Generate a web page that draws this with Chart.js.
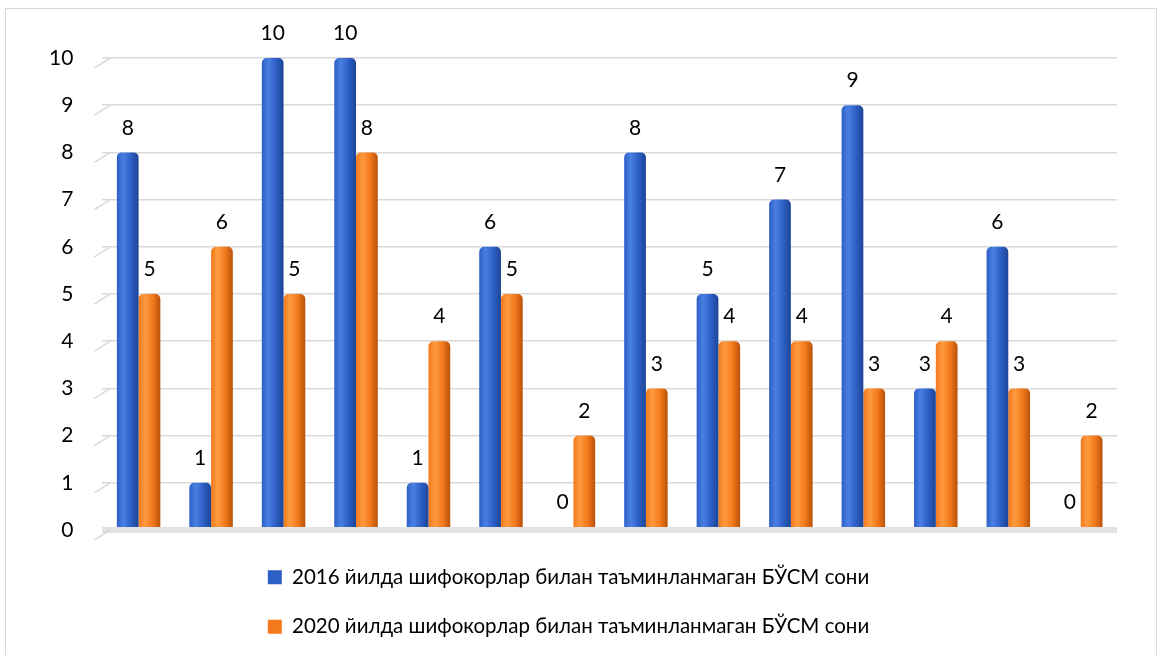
<!DOCTYPE html>
<html>
<head>
<meta charset="utf-8">
<script src="https://cdn.jsdelivr.net/npm/chart.js@4"></script>
<style>
  html, body { margin: 0; padding: 0; background: #fff; }
  #wrap { position: relative; width: 1165px; height: 655px; overflow: hidden; }
  #frame { position: absolute; left: 5px; top: 8px; width: 1152px; height: 660px; border: 1px solid #d9d9d9; box-sizing: border-box; }
  canvas { position: absolute; left: 0; top: 0; }
</style>
</head>
<body>
<div id="wrap">
  <div id="frame"></div>
  <canvas id="chart" width="1165" height="655"></canvas>
</div>
<script>
'use strict';

// categories have no visible labels in the source picture
const categories = ['1', '2', '3', '4', '5', '6', '7', '8', '9', '10', '11', '12', '13', '14'];
const values2016 = [8, 1, 10, 10, 1, 6, 0, 8, 5, 7, 9, 3, 6, 0];
const values2020 = [5, 6, 5, 8, 4, 5, 2, 3, 4, 4, 3, 4, 3, 2];
const yTicks = [0, 1, 2, 3, 4, 5, 6, 7, 8, 9, 10];
const label2016 = '2016 йилда шифокорлар билан таъминланмаган БЎСМ сони';
const label2020 = '2020 йилда шифокорлар билан таъминланмаган БЎСМ сони';

const FONT = 'Lato, "Open Sans", sans-serif';

const palette = {
  blue: { solid: '#2d5fc6', dark: '#1d4595', light: '#4a80e2' },
  orange: { solid: '#f27a1c', dark: '#b9520a', light: '#ff9a40' },
};

// horizontal shading per bar, gives the rounded "3D" look
function shaded(colors, side) {
  return context => {
    const chart = context.chart;
    const xs = chart.scales.x;
    if (!chart.chartArea || !xs || context.type !== 'data') {
      return colors.solid;
    }
    const center = xs.getPixelForValue(context.dataIndex);
    const barWidth = xs.width / categories.length * 0.6 / 2;
    const left = side < 0 ? center - barWidth : center;
    const g = chart.ctx.createLinearGradient(left, 0, left + barWidth, 0);
    g.addColorStop(0, colors.solid);
    g.addColorStop(0.3, colors.light);
    g.addColorStop(0.65, colors.solid);
    g.addColorStop(1, colors.dark);
    return g;
  };
}

const valueLabels = {
  id: 'valueLabels',
  afterDatasetsDraw(chart) {
    const { ctx } = chart;
    ctx.save();
    ctx.font = '21px ' + FONT;
    ctx.fillStyle = '#000';
    ctx.textAlign = 'center';
    ctx.textBaseline = 'bottom';
    chart.data.datasets.forEach((ds, i) => {
      chart.getDatasetMeta(i).data.forEach((bar, j) => {
        ctx.fillText(String(ds.data[j]), bar.x, bar.y - 14);
      });
    });
    ctx.restore();
  },
};

// short slanted stubs at the left end of each gridline (perspective wall)
const wallStubs = {
  id: 'wallStubs',
  beforeDatasetsDraw(chart) {
    const { ctx, chartArea } = chart;
    const ys = chart.scales.y;
    ctx.save();
    ctx.strokeStyle = '#d9d9d9';
    ctx.lineWidth = 1.5;
    yTicks.forEach(v => {
      const y = ys.getPixelForValue(v);
      ctx.beginPath();
      ctx.moveTo(chartArea.left - 8, y + 10);
      ctx.lineTo(chartArea.left + 8, y);
      ctx.stroke();
    });
    ctx.restore();
  },
};

new Chart(document.getElementById('chart'), {
  type: 'bar',
  data: {
    labels: categories,
    datasets: [
      {
        label: label2016,
        data: values2016,
        backgroundColor: shaded(palette.blue, -1),
        borderRadius: { topLeft: 5, topRight: 5 },
        borderSkipped: 'start',
        minBarLength: 3,
      },
      {
        label: label2020,
        data: values2020,
        backgroundColor: shaded(palette.orange, 1),
        borderRadius: { topLeft: 5, topRight: 5 },
        borderSkipped: 'start',
        minBarLength: 3,
      },
    ],
  },
  options: {
    responsive: false,
    animation: false,
    layout: { padding: { left: 20, right: 48, top: 58, bottom: 8 } },
    datasets: { bar: { barPercentage: 1, categoryPercentage: 0.6 } },
    scales: {
      x: {
        ticks: { display: false },
        grid: { display: false },
        border: { display: false },
        afterFit: scale => {
          scale.height = 8;
        },
      },
      y: {
        min: 0,
        max: 10,
        afterBuildTicks: scale => {
          scale.ticks = yTicks.map(v => ({ value: v }));
        },
        ticks: { font: { family: FONT, size: 21 }, color: '#000', padding: 29 },
        grid: {
          drawTicks: false,
          color: ctx => (ctx.tick && ctx.tick.value === 0 ? '#e3e3e3' : '#d9d9d9'),
          lineWidth: ctx => (ctx.tick && ctx.tick.value === 0 ? 6 : 1.5),
        },
        border: { display: false },
      },
    },
    plugins: {
      tooltip: { enabled: false },
      legend: {
        position: 'bottom',
        align: 'center',
        labels: {
          color: '#000',
          font: { family: FONT, size: 20.5 },
          boxWidth: 14,
          boxHeight: 14,
          padding: 29,
          generateLabels: chart => {
            const items = Chart.defaults.plugins.legend.labels.generateLabels(chart);
            const solid = [palette.blue.solid, palette.orange.solid];
            items.forEach((item, i) => {
              item.fillStyle = solid[i];
              item.strokeStyle = solid[i];
              item.lineWidth = 0;
            });
            return items;
          },
        },
      },
    },
  },
  plugins: [valueLabels, wallStubs],
});
</script>
</body>
</html>
